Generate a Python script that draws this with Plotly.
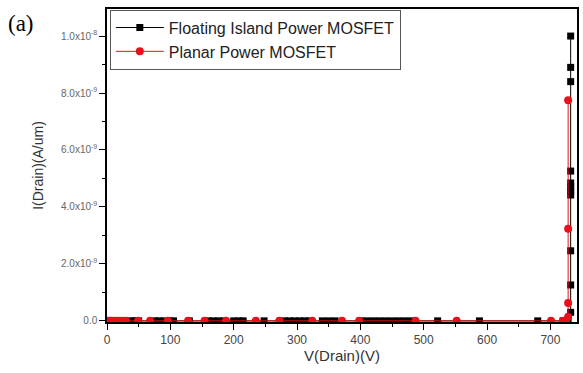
import plotly.graph_objects as go

# Floating Island Power MOSFET (black squares)
fi_v = [0, 5, 10, 15, 20, 30, 40, 45, 50, 75, 82, 90, 98, 105, 130, 160, 168, 176, 185, 200, 208, 215,
        248, 280, 288, 296, 304, 312, 320, 340, 350, 360, 400, 410, 420, 430, 440, 450, 460, 470, 480,
        522, 588, 680, 720, 725, 728,
        732, 732, 732, 732, 732, 732, 732, 732, 732, 732, 732]
fi_i = [0]*47 + [0.3e-9, 1.26e-9, 2.46e-9, 4.42e-9, 4.55e-9, 4.7e-9, 4.84e-9, 5.26e-9, 8.4e-9, 8.9e-9, 1.0e-8]

# Planar Power MOSFET (red circles)
pl_v = [0, 3, 6, 10, 15, 20, 25, 30, 49, 68, 96, 128, 154, 188, 235, 272, 324, 371, 398, 487, 552, 701,
        720, 725, 728, 728, 728, 728]
pl_i = [0]*24 + [0.14e-9, 0.63e-9, 3.23e-9, 7.75e-9]

x_ticks = [0, 100, 200, 300, 400, 500, 600, 700]
y_tickvals = [0, 2e-9, 4e-9, 6e-9, 8e-9, 1e-8]
y_ticktext = ["0.0", "2.0x10<sup>-9</sup>", "4.0x10<sup>-9</sup>", "6.0x10<sup>-9</sup>",
              "8.0x10<sup>-9</sup>", "1.0x10<sup>-8</sup>"]

fig = go.Figure()
fig.add_trace(go.Scatter(x=fi_v, y=fi_i, mode="lines+markers", name="Floating Island Power MOSFET",
                         line=dict(color="black", width=1),
                         marker=dict(symbol="square", size=7, color="black")))
fig.add_trace(go.Scatter(x=pl_v, y=pl_i, mode="lines+markers", name="Planar Power MOSFET",
                         line=dict(color="#e8101a", width=1),
                         marker=dict(symbol="circle", size=8, color="#e8101a")))

font_family = "Liberation Sans, Arial, sans-serif"
fig.update_layout(
    width=583, height=373,
    margin=dict(l=107, r=4, t=9, b=51),
    paper_bgcolor="white", plot_bgcolor="white",
    font=dict(family=font_family, color="#333"),
    showlegend=True,
    legend=dict(x=0.006, y=0.998, xanchor="left", yanchor="top",
                bgcolor="white", bordercolor="#555", borderwidth=1,
                font=dict(size=16, color="#222", family=font_family),
                tracegroupgap=0, itemwidth=48),
    xaxis=dict(range=[0, 742], tickvals=x_ticks, ticks="outside", ticklen=6, tickcolor="black",
               showline=True, linecolor="black", linewidth=1.5, mirror=True, showgrid=False, zeroline=False,
               tickfont=dict(size=12, color="#444"),
               minor=dict(dtick=50, tick0=0, ticks="outside", ticklen=3, tickcolor="black"),
               title=dict(text="V(Drain)(V)", font=dict(size=15, color="#333"), standoff=4)),
    yaxis=dict(range=[-0.04e-9, 1.095e-8], tickvals=y_tickvals, ticktext=y_ticktext, ticks="outside",
               ticklen=6, tickcolor="black",
               showline=True, linecolor="black", linewidth=1.5, mirror=True, showgrid=False, zeroline=False,
               tickfont=dict(size=10, color="#666"),
               minor=dict(dtick=1e-9, tick0=0, ticks="outside", ticklen=3, tickcolor="black"),
               title=dict(text="I(Drain)(A/um)", font=dict(size=14, color="#333"), standoff=14)),
)
fig.add_annotation(text="(a)", xref="paper", yref="paper", x=-107/472, y=1.0, xanchor="left", yanchor="top",
                   yshift=0, xshift=6, showarrow=False,
                   font=dict(family="Liberation Serif, Times New Roman, serif", size=23, color="black"))
fig.write_html("out.html")
